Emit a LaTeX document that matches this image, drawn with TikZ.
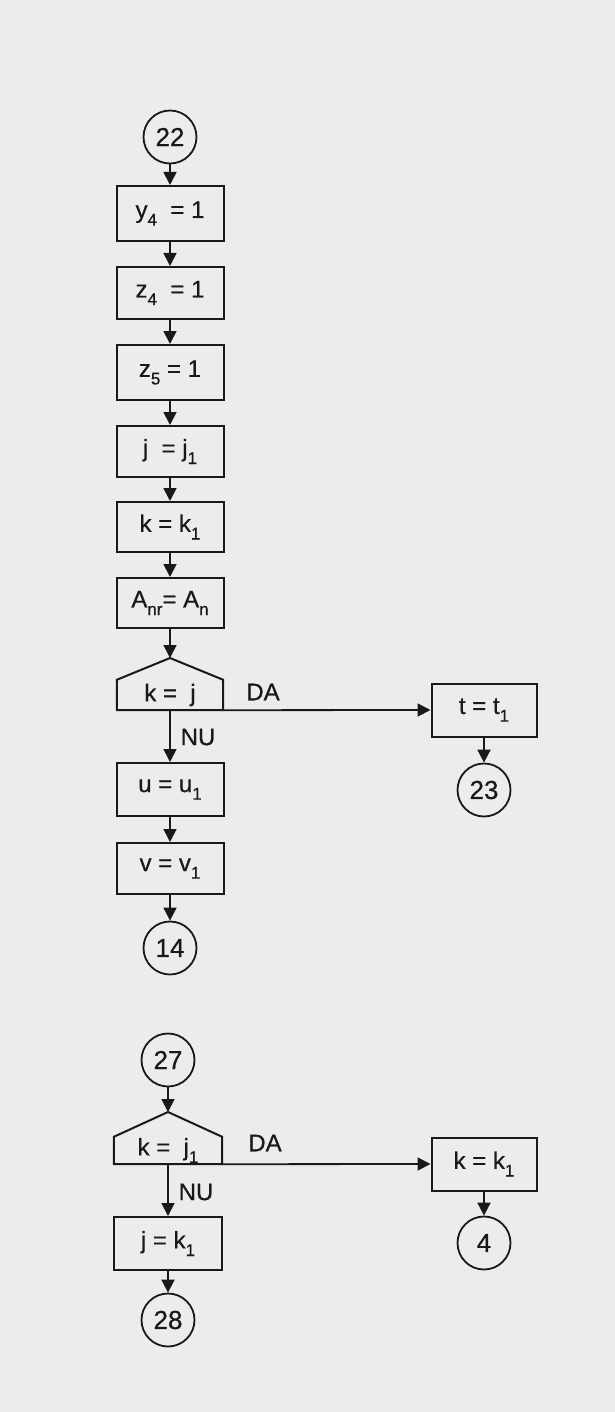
\documentclass[tikz,border=0pt]{standalone}
\usepackage{fontspec}
\setmainfont{Liberation Sans}[FakeBold=0.6]
\usetikzlibrary{arrows.meta,calc}
\definecolor{paper}{RGB}{236,236,234}
\definecolor{ink}{RGB}{25,25,25}
\newcommand{\lo}[1]{\raisebox{-0.6ex}{\fontsize{17}{17}\selectfont #1}}
\begin{document}
\begin{tikzpicture}[x=1pt,y=-1pt,
  every node/.style={font=\fontsize{24}{24}\selectfont, text=ink},
  box/.style={draw=ink, line width=2pt, minimum width=107pt, minimum height=53pt, inner sep=0pt},
  conn/.style={draw=ink, circle, line width=1.8pt, minimum size=53pt, inner sep=0pt, font=\fontsize{26}{26}\selectfont},
  dec/.style={minimum width=106pt, inner sep=0pt},
  decline/.style={draw=ink, line width=2pt, line join=miter},
  arr/.style={draw=ink, line width=1.8pt, -{Triangle[length=13pt,width=13pt]}},
  lbl/.style={font=\fontsize{24}{24}\selectfont}]
\fill[paper] (0,0) rectangle (615,1412);
\useasboundingbox (0,0) rectangle (615,1412);

% ---- upper chart ----
\node[conn] (c22) at (170,137) {22};
\node[box, minimum height=55pt] (y4) at (170,213.5) {y\lo{4}\ \ = 1};
\node[box, minimum height=52pt] (z4) at (170,293) {z\lo{4}\ \ = 1};
\node[box, minimum height=55pt] (z5) at (170,372.5) {z\lo{5}\ = 1};
\node[box, minimum height=51pt] (jj) at (170,451.5) {j\ \ = j\lo{1}};
\node[box, minimum height=50pt] (kk1) at (170,527) {k\ = k\lo{1}};
\node[box, minimum height=50pt] (anr) at (170,603) {A\lo{nr}= A\lo{n}};
\node[dec, minimum height=30pt] (d1) at (170,695) {k\ = \ j};
\coordinate (d1apex) at (170,658);
\draw[decline] (d1.south west) -- (d1.north west) -- (d1apex) -- (d1.north east) -- (d1.south east) -- cycle;
\node[box, minimum height=53pt] (uu) at (170,789.5) {u\ = u\lo{1}};
\node[box, minimum height=51pt] (vv) at (170,868.5) {v\ = v\lo{1}};
\node[conn] (c14) at (170,948) {14};
\node[box, minimum width=105pt, minimum height=53pt] (tt) at (484,710) {t\ = t\lo{1}};
\node[conn] (c23) at (484,790) {23};
\node[lbl] (da1) at (263,692) {DA};
\node[lbl] (nu1) at (198,737) {NU};

\draw[arr] (c22) -- (y4);
\draw[arr] (y4) -- (z4);
\draw[arr] (z4) -- (z5);
\draw[arr] (z5) -- (jj);
\draw[arr] (jj) -- (kk1);
\draw[arr] (kk1) -- (anr);
\draw[arr] (anr) -- (d1apex);
\draw[arr] (d1.south) -- (uu);
\draw[arr] (uu) -- (vv);
\draw[arr] (vv) -- (c14);
\draw[arr] (d1.south east) -- (tt.west);
\draw[arr] (tt) -- (c23);

% ---- lower chart ----
\node[conn] (c27) at (168,1060) {27};
\node[dec, minimum width=108pt, minimum height=27pt] (d2) at (168,1150.5) {k\ = \ j\lo{1}};
\coordinate (d2apex) at (168,1112);
\draw[decline] (d2.south west) -- (d2.north west) -- (d2apex) -- (d2.north east) -- (d2.south east) -- cycle;
\node[box, minimum width=108pt, minimum height=53pt] (jk) at (168,1243.5) {j\ = k\lo{1}};
\node[conn] (c28) at (168,1320) {28};
\node[box, minimum width=105pt, minimum height=53pt] (kk) at (484,1164) {k = k\lo{1}};
\node[conn] (c4) at (484,1243) {4};
\node[lbl] (da2) at (265,1143) {DA};
\node[lbl] (nu2) at (196,1192) {NU};

\draw[arr] (c27) -- (d2apex);
\draw[arr] (d2.south) -- (jk);
\draw[arr] (jk) -- (c28);
\draw[arr] (d2.south east) -- (kk.west);
\draw[arr] (kk) -- (c4);
\end{tikzpicture}
\end{document}
